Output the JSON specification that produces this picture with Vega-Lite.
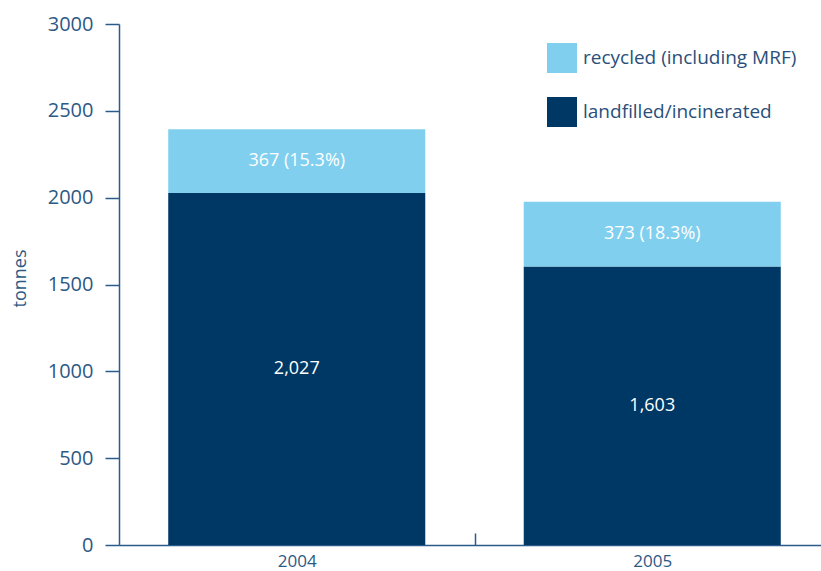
{
  "$schema": "https://vega.github.io/schema/vega-lite/v6.json",
  "width": 702,
  "height": 521,
  "autosize": {"type": "none"},
  "padding": {"left": 119, "top": 24, "right": 0, "bottom": 26},
  "background": "white",
  "config": {
    "view": {"stroke": null},
    "font": "Open Sans"
  },
  "data": {
    "values": [
      {"year": "2004", "category": "landfilled/incinerated", "value": 2027, "label": "2,027"},
      {"year": "2004", "category": "recycled (including MRF)", "value": 367, "label": "367 (15.3%)"},
      {"year": "2005", "category": "landfilled/incinerated", "value": 1603, "label": "1,603"},
      {"year": "2005", "category": "recycled (including MRF)", "value": 373, "label": "373 (18.3%)"}
    ]
  },
  "transform": [
    {"stack": "value", "groupby": ["year"], "sort": [{"field": "category", "order": "ascending"}], "as": ["v0", "v1"]},
    {"calculate": "(datum.v0 + datum.v1) / 2", "as": "mid"}
  ],
  "encoding": {
    "x": {
      "field": "year",
      "type": "nominal",
      "scale": {"range": [0, 711], "paddingInner": 0.277, "paddingOuter": 0.1385},
      "axis": {
        "title": null,
        "labelAngle": 0,
        "labelFontSize": 17,
        "labelColor": "#2d5985",
        "domainColor": "#2a5b8a",
        "domainWidth": 1.5,
        "tickColor": "#2a5b8a",
        "tickWidth": 1.5,
        "tickSize": -12,
        "tickOffset": 177.75,
        "labelOffset": -177.75,
        "labelPadding": 20
      }
    }
  },
  "layer": [
    {
      "mark": {"type": "bar"},
      "encoding": {
        "y": {
          "field": "v1",
          "type": "quantitative",
          "scale": {"domain": [0, 3000], "nice": false},
          "axis": {
            "title": "tonnes",
            "values": [0, 500, 1000, 1500, 2000, 2500, 3000],
            "format": "d",
            "grid": false,
            "labelFontSize": 20,
            "labelColor": "#2d5985",
            "labelPadding": 12,
            "tickSize": 14,
            "tickColor": "#2a5b8a",
            "tickWidth": 1.5,
            "domainColor": "#2a5b8a",
            "domainWidth": 1.5,
            "titleFontSize": 18,
            "titleFontWeight": "normal",
            "titleColor": "#2d5985",
            "titleX": -99,
            "titleY": 254,
            "titleAngle": -90,
            "titleAlign": "center",
            "titleBaseline": "middle"
          }
        },
        "y2": {"field": "v0"},
        "color": {
          "field": "category",
          "type": "nominal",
          "scale": {
            "domain": ["recycled (including MRF)", "landfilled/incinerated"],
            "range": ["#80cfee", "#003865"]
          },
          "legend": {
            "title": null,
            "orient": "none",
            "legendX": 428,
            "legendY": 19,
            "padding": 0,
            "symbolType": "square",
            "symbolSize": 900,
            "symbolStrokeWidth": 0,
            "symbolOpacity": 1,
            "labelFontSize": 19,
            "labelColor": "#2a4f7a",
            "labelOffset": 6,
            "rowPadding": 24,
            "labelLimit": 400
          }
        }
      }
    },
    {
      "mark": {"type": "text", "color": "white", "fontSize": 18, "baseline": "middle", "align": "center"},
      "encoding": {
        "y": {"field": "mid", "type": "quantitative"},
        "text": {"field": "label", "type": "nominal"}
      }
    }
  ]
}
